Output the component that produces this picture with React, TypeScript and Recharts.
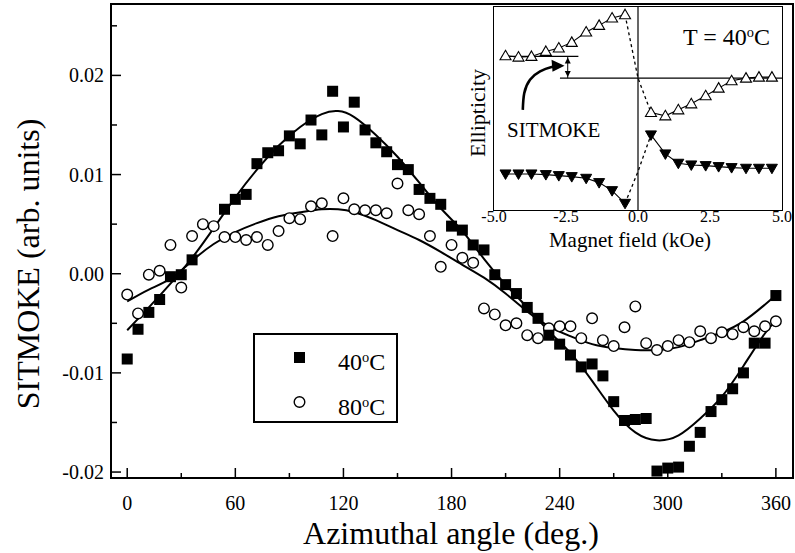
import React from 'react';
import { ComposedChart, LineChart, Line, Scatter, XAxis, YAxis, ReferenceLine } from 'recharts';

const FONT = '"Liberation Serif", "Times New Roman", serif';

// main panel: SITMOKE vs azimuthal angle
const angles = [
  0, 6, 12, 18, 24, 30, 36, 42, 48, 54, 60, 66, 72, 78, 84, 90, 96, 102, 108, 114, 120,
  126, 132, 138, 144, 150, 156, 162, 168, 174, 180, 186, 192, 198, 204, 210, 216, 222, 228, 234, 240,
  246, 252, 258, 264, 270, 276, 282, 288, 294, 300, 306, 312, 318, 324, 330, 336, 342, 348, 354, 360,
];
const sitmoke40 = [
  -0.0086, -0.0056, -0.0039, -0.0026, -0.0003, -0.0001, 0.0014, null, null, 0.0065, 0.0075, 0.008, 0.0111, 0.0122, 0.0124, 0.0139, 0.0131, 0.0155, 0.014, 0.0184, 0.0148,
  0.0173, 0.0145, 0.0132, 0.0123, 0.011, 0.0105, 0.0085, 0.0076, 0.007, 0.0048, 0.0044, 0.0029, 0.0024, -0.0001, -0.0011, -0.002, -0.0034, -0.0045, -0.0062, -0.0071,
  -0.0082, -0.0094, -0.0091, -0.0103, -0.0129, -0.0148, -0.0147, -0.0146, -0.0199, -0.0196, -0.0195, -0.0174, -0.016, -0.0139, -0.0127, -0.0116, -0.01, -0.007, -0.007, -0.0022,
];
const sitmoke80 = [
  -0.0021, -0.004, -0.0001, 0.0003, 0.0029, -0.0014, 0.0038, 0.005, 0.0048, 0.0037, 0.0037, 0.0034, 0.0037, 0.0029, 0.0043, 0.0056, 0.0055, 0.0068, 0.0071, 0.0038, 0.0076,
  0.0065, 0.0064, 0.0064, 0.0061, 0.0091, 0.0064, 0.006, 0.0038, 0.0007, 0.0029, 0.0016, 0.0011, -0.0035, -0.0041, -0.0052, -0.005, -0.0062, -0.0065, -0.0055, -0.0053,
  -0.0053, -0.0065, -0.0045, -0.0067, -0.0073, -0.0054, -0.0033, -0.007, -0.0077, -0.0073, -0.0067, -0.0069, -0.0058, -0.0065, -0.0059, -0.0061, -0.0054, -0.0058, -0.0053, -0.0048,
];

// fitted curves
const fitAngles = [0, 12, 24, 36, 48, 60, 72, 84, 96, 108, 117, 126, 138, 150, 162, 174, 186, 198, 210, 222, 234, 246, 258, 270, 282, 294, 306, 318, 330, 342, 354, 360];
const fit40 = [
  -0.0057, -0.0034, -0.001, 0.0016, 0.0046, 0.0077, 0.0105, 0.0129, 0.0148, 0.0161, 0.0164, 0.0158, 0.014, 0.0118, 0.0092, 0.0066,
  0.0043, 0.0015, -0.0011, -0.0034, -0.0058, -0.008, -0.0108, -0.0138, -0.016, -0.0168, -0.0163, -0.0146, -0.0124, -0.0093, -0.006, -0.0048,
];
const fit80 = [
  -0.0028, -0.0016, -0.0005, 0.0013, 0.003, 0.0042, 0.0051, 0.0058, 0.0062, 0.0065, 0.0065, 0.0062, 0.0054, 0.0044, 0.0034, 0.0022,
  0.0009, -0.0004, -0.002, -0.0038, -0.0053, -0.0063, -0.0071, -0.0075, -0.0077, -0.0077, -0.0074, -0.0067, -0.0059, -0.0048, -0.0031, -0.0022,
];

const xTicks = [0, 30, 60, 90, 120, 150, 180, 210, 240, 270, 300, 330, 360];
const yTicks = [-0.02, -0.015, -0.01, -0.005, 0, 0.005, 0.01, 0.015, 0.02, 0.025];

// inset: ellipticity hysteresis at 40 C
const fieldLeft = [-4.6, -4.15, -3.7, -3.2, -2.75, -2.3, -1.8, -1.35, -0.9, -0.45];
const fieldRight = [0.45, 0.95, 1.4, 1.85, 2.35, 2.8, 3.25, 3.75, 4.2, 4.65];
const upLeft = [4.62, 4.58, 4.6, 4.75, 4.85, 5.02, 5.33, 5.53, 5.75, 5.85];
const upRight = [2.92, 2.82, 3.0, 3.18, 3.42, 3.65, 3.87, 3.95, 3.98, 3.98];
const downLeft = [1.08, 1.08, 1.08, 1.06, 1.03, 1.0, 0.95, 0.82, 0.58, 0.2];
const downRight = [2.25, 1.68, 1.4, 1.35, 1.33, 1.3, 1.27, 1.25, 1.25, 1.25];
const jumpField = [-0.45, 0, 0.45];
const upJump = [5.85, 3.95, 2.92];
const downJump = [0.2, 1.15, 2.25];
const insetTicks = [-5, -2.5, 0, 2.5, 5];
const arrowField = [-4.0, -3.95, -3.75, -3.4, -3.0, -2.69];
const arrowE = [3.0, 3.5, 3.9, 4.15, 4.28, 4.32];

const pts = (xs: number[], ys: (number | null)[], kx: string, ky: string) =>
  xs.map((x, i) => ({ [kx]: x, [ky]: ys[i] })).filter((d) => d[ky] !== null);

const data40 = pts(angles, sitmoke40, 'angle', 'value');
const data80 = pts(angles, sitmoke80, 'angle', 'value');
const fitData40 = pts(fitAngles, fit40, 'angle', 'value');
const fitData80 = pts(fitAngles, fit80, 'angle', 'value');

const Square = ({ cx, cy }: any) => <rect x={cx - 5.5} y={cy - 5.5} width={11} height={11} fill="#000" />;
const Ring = ({ cx, cy }: any) => <circle cx={cx} cy={cy} r={5.3} fill="#fff" stroke="#000" strokeWidth={1.4} />;

const MainXTick = ({ x, y, payload }: any) => {
  const v = payload.value;
  const major = v % 60 === 0;
  return (
    <g>
      <line x1={x} x2={x} y1={y} y2={y - (major ? 10 : 5)} stroke="#000" strokeWidth={1.5} />
      {major && (
        <text x={x} y={y + 32} textAnchor="middle" fontSize={20} fontFamily={FONT} fill="#000">
          {v}
        </text>
      )}
    </g>
  );
};

const MainYTick = ({ x, y, payload }: any) => {
  const v = payload.value;
  const major = Math.abs(v * 100 - Math.round(v * 100)) < 1e-6;
  const label = Math.abs(v) < 1e-9 ? '0.00' : v.toFixed(2);
  return (
    <g>
      <line x1={x} x2={x + (major ? 10 : 6)} y1={y} y2={y} stroke="#000" strokeWidth={1.5} />
      {major && v < 0.025 && (
        <text x={x - 7} y={y + 7} textAnchor="end" fontSize={20} fontFamily={FONT} fill="#000">
          {label}
        </text>
      )}
    </g>
  );
};

const InsetXTick = ({ x, y, payload }: any) => (
  <text x={x} y={y + 12} textAnchor="middle" fontSize={16} fontFamily={FONT} fill="#000">
    {payload.value.toFixed(1)}
  </text>
);

const UpTri = ({ cx, cy }: any) => (
  <path d={`M${cx},${cy - 5.5} L${cx + 5.5},${cy + 4} L${cx - 5.5},${cy + 4} Z`} fill="#fff" stroke="#000" strokeWidth={1.1} />
);
const DownTri = ({ cx, cy }: any) => (
  <path d={`M${cx - 5.5},${cy - 4} L${cx + 5.5},${cy - 4} L${cx},${cy + 5.5} Z`} fill="#000" stroke="#000" strokeWidth={1} />
);

const ArrowTip = (props: any) => {
  const { cx, cy, index } = props;
  if (index !== arrowField.length - 1) return <g key={index} />;
  return <path key={index} d={`M${cx + 4},${cy} L${cx - 9},${cy - 6} L${cx - 8},${cy + 6} Z`} fill="#000" />;
};

const DoubleTip = (props: any) => {
  const { cx, cy, index } = props;
  const d = index === 0 ? `M${cx},${cy - 1} L${cx - 3},${cy - 7} L${cx + 3},${cy - 7} Z` : `M${cx},${cy + 1} L${cx - 3},${cy + 7} L${cx + 3},${cy + 7} Z`;
  return <path key={index} d={d} fill="#000" />;
};

const Sup = () => <span style={{ fontSize: '0.6em', verticalAlign: '0.55em' }}>o</span>;

const Inset = () => {
  const ul = pts(fieldLeft, upLeft, 'h', 'e');
  const ur = pts(fieldRight, upRight, 'h', 'e');
  const dl = pts(fieldLeft, downLeft, 'h', 'e');
  const dr = pts(fieldRight, downRight, 'h', 'e');
  const uj = pts(jumpField, upJump, 'h', 'e');
  const dj = pts(jumpField, downJump, 'h', 'e');
  const arrow = pts(arrowField, arrowE, 'h', 'e');
  const gap = [
    { h: -2.44, e: 3.95 },
    { h: -2.44, e: 4.6 },
  ];
  return (
    <div style={{ position: 'absolute', left: 470, top: 7 }}>
      <LineChart width={330} height={233} margin={{ top: 0, right: 18, left: 24, bottom: 0 }}>
        <XAxis
          dataKey="h"
          type="number"
          domain={[-5, 5]}
          ticks={insetTicks}
          tick={<InsetXTick />}
          tickLine={false}
          tickSize={0}
          tickMargin={0}
          height={30}
          axisLine={false}
          allowDuplicatedCategory={false}
        />
        <YAxis dataKey="e" type="number" domain={[0, 6.08]} hide />
        <ReferenceLine x={0} stroke="#000" strokeWidth={1.2} />
        <ReferenceLine segment={[{ x: -4.73, y: 4.6 }, { x: -2.07, y: 4.6 }]} stroke="#000" strokeWidth={1.1} />
        <ReferenceLine segment={[{ x: -2.71, y: 3.95 }, { x: 5, y: 3.95 }]} stroke="#000" strokeWidth={1.1} />
        <Line data={gap} dataKey="e" stroke="#000" strokeWidth={1} dot={<DoubleTip />} activeDot={false} isAnimationActive={false} />
        <Line data={arrow} dataKey="e" type="natural" stroke="#000" strokeWidth={2.6} dot={<ArrowTip />} activeDot={false} isAnimationActive={false} />
        <Line data={uj} dataKey="e" stroke="#000" strokeWidth={1.3} strokeDasharray="3 3" dot={false} activeDot={false} isAnimationActive={false} />
        <Line data={dj} dataKey="e" stroke="#000" strokeWidth={1.3} strokeDasharray="3 3" dot={false} activeDot={false} isAnimationActive={false} />
        <Line data={ul} dataKey="e" stroke="#000" strokeWidth={1.1} dot={<UpTri />} activeDot={false} isAnimationActive={false} />
        <Line data={ur} dataKey="e" stroke="#000" strokeWidth={1.1} dot={<UpTri />} activeDot={false} isAnimationActive={false} />
        <Line data={dl} dataKey="e" stroke="#000" strokeWidth={1.1} dot={<DownTri />} activeDot={false} isAnimationActive={false} />
        <Line data={dr} dataKey="e" stroke="#000" strokeWidth={1.1} dot={<DownTri />} activeDot={false} isAnimationActive={false} />
      </LineChart>
      {/* inset frame */}
      <div style={{ position: 'absolute', left: 23, top: -1, width: 290, height: 205, border: '1.5px solid #000', boxSizing: 'border-box', pointerEvents: 'none' }} />
    </div>
  );
};

const App = () => {
  return (
    <div style={{ position: 'absolute', left: 0, top: 0, width: 795, height: 553, overflow: 'hidden', background: '#fff', fontFamily: FONT, color: '#000' }}>
      <ComposedChart width={795} height={553} margin={{ top: 4, right: 2, left: 0, bottom: 0 }}>
        <XAxis
          dataKey="angle"
          type="number"
          domain={[-9, 369.5]}
          ticks={xTicks}
          tick={<MainXTick />}
          tickLine={false}
          tickSize={0}
          tickMargin={0}
          height={75}
          axisLine={{ stroke: '#000', strokeWidth: 2 }}
          allowDuplicatedCategory={false}
        />
        <YAxis
          dataKey="value"
          type="number"
          domain={[-0.0206, 0.0272]}
          ticks={yTicks}
          tick={<MainYTick />}
          tickLine={false}
          tickSize={0}
          tickMargin={0}
          width={111}
          axisLine={{ stroke: '#000', strokeWidth: 2 }}
        />
        <Line data={fitData40} dataKey="value" type="natural" stroke="#000" strokeWidth={2} dot={false} activeDot={false} isAnimationActive={false} />
        <Line data={fitData80} dataKey="value" type="natural" stroke="#000" strokeWidth={2} dot={false} activeDot={false} isAnimationActive={false} />
        <Scatter data={data80} dataKey="value" shape={<Ring />} isAnimationActive={false} />
        <Scatter data={data40} dataKey="value" shape={<Square />} isAnimationActive={false} />
      </ComposedChart>

      {/* main frame */}
      <div style={{ position: 'absolute', left: 110, top: 3, width: 684, height: 476, border: '2px solid #000', boxSizing: 'border-box', pointerEvents: 'none' }} />

      {/* axis titles */}
      <div style={{ position: 'absolute', left: 28, top: 264, transform: 'translate(-50%, -50%) rotate(-90deg)', fontSize: 32, whiteSpace: 'nowrap' }}>
        SITMOKE (arb. units)
      </div>
      <div style={{ position: 'absolute', left: 451, top: 533, transform: 'translate(-50%, -50%)', fontSize: 32, whiteSpace: 'nowrap' }}>
        Azimuthal angle (deg.)
      </div>

      {/* legend */}
      <div style={{ position: 'absolute', left: 253, top: 333, width: 145, height: 90, border: '2px solid #000', boxSizing: 'border-box', background: '#fff' }}>
        <svg width={30} height={86} style={{ position: 'absolute', left: 30, top: 0 }}>
          <rect x={9} y={17} width={11} height={11} fill="#000" />
          <circle cx={14.5} cy={67} r={5.3} fill="#fff" stroke="#000" strokeWidth={1.4} />
        </svg>
        <div style={{ position: 'absolute', left: 83, top: 8, fontSize: 24, lineHeight: '28px' }}>
          40<Sup />C
        </div>
        <div style={{ position: 'absolute', left: 83, top: 53, fontSize: 24, lineHeight: '28px' }}>
          80<Sup />C
        </div>
      </div>

      <Inset />

      {/* inset texts */}
      <div style={{ position: 'absolute', left: 478, top: 113, transform: 'translate(-50%, -50%) rotate(-90deg)', fontSize: 22, whiteSpace: 'nowrap' }}>
        Ellipticity
      </div>
      <div style={{ position: 'absolute', left: 630, top: 240, transform: 'translate(-50%, -50%)', fontSize: 21, lineHeight: '22px', whiteSpace: 'nowrap' }}>
        Magnet field (kOe)
      </div>
      <div style={{ position: 'absolute', left: 683, top: 18, fontSize: 24, lineHeight: '28px', whiteSpace: 'nowrap' }}>
        T = 40<Sup />C
      </div>
      <div style={{ position: 'absolute', left: 507, top: 117, fontSize: 21, lineHeight: '26px', whiteSpace: 'nowrap' }}>
        SITMOKE
      </div>
    </div>
  );
};

export default App;
